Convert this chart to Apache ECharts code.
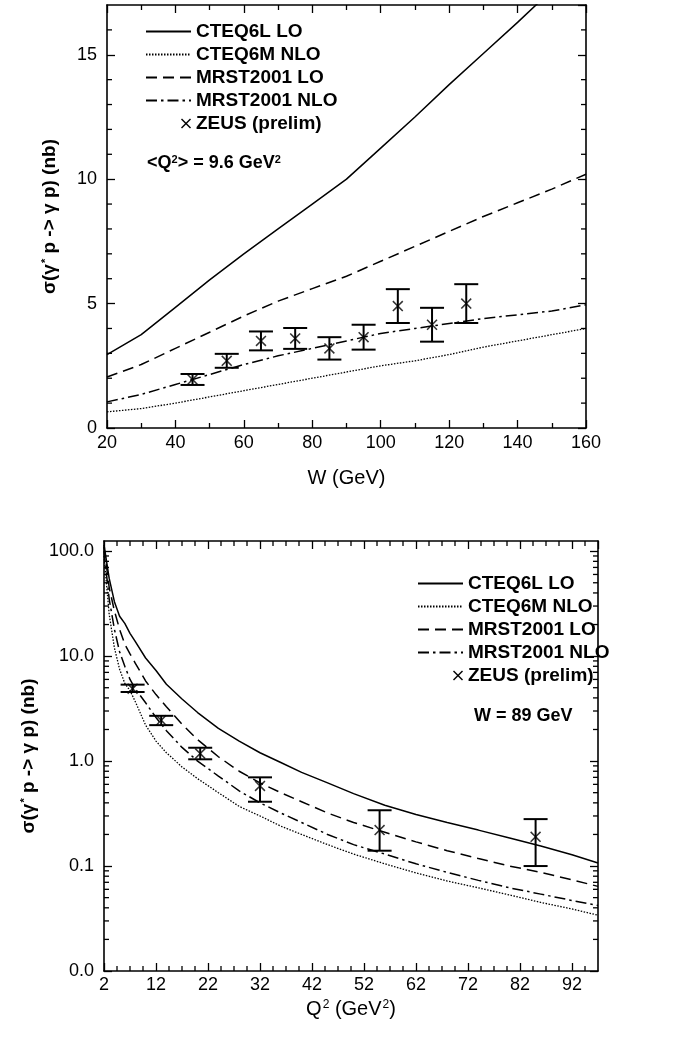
<!DOCTYPE html>
<html>
<head>
<meta charset="utf-8">
<script src="https://cdn.jsdelivr.net/npm/echarts@6/dist/echarts.min.js"></script>
<style>
html,body{margin:0;padding:0;background:#fff;}
#c{width:680px;height:1038px;}
</style>
</head>
<body>
<div id="c"></div>
<script>
// ---------- Top panel: sigma vs W at <Q2> = 9.6 GeV2 ----------
const W_VALUES      = [20, 30, 40, 50, 60, 70, 80, 90, 100, 110, 120, 130, 140, 150, 160];
const TOP_CTEQ6L_LO = [2.95, 3.75, 4.85, 5.95, 7.0, 8.0, 9.0, 10.0, 11.25, 12.5, 13.8, 15.05, 16.3, 17.6, 18.9];
const TOP_CTEQ6M_NLO= [0.65, 0.78, 1.0, 1.25, 1.5, 1.75, 2.0, 2.25, 2.5, 2.7, 2.95, 3.25, 3.5, 3.75, 4.0];
const TOP_MRST_LO   = [2.05, 2.55, 3.2, 3.85, 4.5, 5.1, 5.6, 6.1, 6.7, 7.3, 7.9, 8.5, 9.05, 9.6, 10.2];
const TOP_MRST_NLO  = [1.05, 1.35, 1.75, 2.15, 2.55, 2.9, 3.2, 3.5, 3.8, 4.0, 4.2, 4.4, 4.55, 4.7, 4.95];
const ZEUS_W        = [45, 55, 65, 75, 85, 95, 105, 115, 125];
const ZEUS_W_SIGMA  = [1.95, 2.7, 3.5, 3.6, 3.2, 3.65, 4.9, 4.15, 5.0];
const ZEUS_W_ERR    = [0.22, 0.28, 0.38, 0.42, 0.45, 0.5, 0.68, 0.68, 0.78];

// ---------- Bottom panel: sigma vs Q2 at W = 89 GeV ----------
const Q2_VALUES     = [2, 3, 4, 5, 6, 7, 8, 10, 12, 14, 17, 20, 24, 28, 32, 36, 40, 45, 50, 56, 62, 68, 74, 80, 86, 92, 97];
const BOT_CTEQ6L_LO = [115, 55, 33, 24, 20.5, 16.5, 13.8, 9.6, 7.3, 5.4, 3.9, 2.9, 2.05, 1.55, 1.2, 0.97, 0.78, 0.62, 0.49, 0.38, 0.31, 0.26, 0.22, 0.185, 0.155, 0.128, 0.107];
const BOT_CTEQ6M_NLO= [90, 25, 12, 7.5, 5.5, 4.7, 3.7, 2.2, 1.55, 1.2, 0.88, 0.68, 0.5, 0.37, 0.3, 0.24, 0.2, 0.16, 0.13, 0.105, 0.086, 0.072, 0.062, 0.053, 0.045, 0.039, 0.034];
const BOT_MRST_LO   = [110, 45, 27, 18, 13, 10.5, 8.6, 5.8, 4.3, 3.3, 2.25, 1.6, 1.1, 0.8, 0.62, 0.5, 0.41, 0.32, 0.26, 0.21, 0.17, 0.14, 0.118, 0.1, 0.087, 0.074, 0.064];
const BOT_MRST_NLO  = [100, 35, 18, 11, 8, 6, 4.9, 3.6, 2.6, 1.95, 1.35, 1.0, 0.72, 0.52, 0.4, 0.32, 0.26, 0.2, 0.16, 0.13, 0.105, 0.087, 0.073, 0.062, 0.054, 0.047, 0.042];
const ZEUS_Q2       = [7.5, 13, 20.5, 32, 55, 85];
const ZEUS_Q2_SIGMA = [4.9, 2.45, 1.18, 0.58, 0.22, 0.19];
const ZEUS_Q2_LOW   = [4.55, 2.2, 1.04, 0.41, 0.14, 0.10];
const ZEUS_Q2_HIGH  = [5.35, 2.7, 1.34, 0.70, 0.34, 0.28];

// ---------- Tick values ----------
const TOP_Y_MINOR_TICKS = [1, 2, 3, 4, 6, 7, 8, 9, 11, 12, 13, 14, 16];
const BOT_X_MINOR_TICKS = [4.5, 7, 9.5, 14.5, 17, 19.5, 24.5, 27, 29.5, 34.5, 37, 39.5,
                           44.5, 47, 49.5, 54.5, 57, 59.5, 64.5, 67, 69.5, 74.5, 77, 79.5,
                           84.5, 87, 89.5, 94.5];
const LOG_MAJOR_TICKS = [0.01, 0.1, 1, 10, 100];
const LOG_MINOR_TICKS = [0.02, 0.03, 0.04, 0.05, 0.06, 0.07, 0.08, 0.09,
                         0.2, 0.3, 0.4, 0.5, 0.6, 0.7, 0.8, 0.9,
                         2, 3, 4, 5, 6, 7, 8, 9,
                         20, 30, 40, 50, 60, 70, 80, 90];

const NAMES = ['CTEQ6L LO', 'CTEQ6M NLO', 'MRST2001 LO', 'MRST2001 NLO', 'ZEUS (prelim)'];

const FONT = '"Liberation Sans", Arial, Helvetica, sans-serif';
const BLACK = '#000';
const CROSS = 'path://M0,1L1,0L5,4L9,0L10,1L6,5L10,9L9,10L5,6L1,10L0,9L4,5Z';
const CROSS_ICON = 'path://M0,0M45,14M35,3L36,2L40,6L44,2L45,3L41,7L45,11L44,12L40,8L36,12L35,11L39,7Z';

const LINE_STYLES = [
  {color: BLACK, width: 1.5, type: 'solid'},
  {color: BLACK, width: 1.3, type: [1.5, 1.5]},
  {color: BLACK, width: 1.5, type: [11, 6]},
  {color: BLACK, width: 1.5, type: [11, 4, 2.5, 4]}
];

function zip(xs, ys) { return xs.map((x, i) => [x, ys[i]]); }

function lineSeries(name, xs, ys, styleIdx, xi, yi) {
  return {
    type: 'line', name: name, xAxisIndex: xi, yAxisIndex: yi,
    data: zip(xs, ys), symbol: 'none', showSymbol: false, smooth: false,
    clip: true, silent: true, lineStyle: LINE_STYLES[styleIdx], z: 3
  };
}

function errRender(params, api) {
  const x = api.value(0), lo = api.value(1), hi = api.value(2);
  const pLo = api.coord([x, lo]);
  const pHi = api.coord([x, hi]);
  const hw = 12;
  const st = {stroke: BLACK, lineWidth: 2, fill: null};
  return {
    type: 'group',
    children: [
      {type: 'line', shape: {x1: pLo[0], y1: pLo[1], x2: pHi[0], y2: pHi[1]}, style: st},
      {type: 'line', shape: {x1: pLo[0] - hw, y1: pLo[1], x2: pLo[0] + hw, y2: pLo[1]}, style: st},
      {type: 'line', shape: {x1: pHi[0] - hw, y1: pHi[1], x2: pHi[0] + hw, y2: pHi[1]}, style: st}
    ]
  };
}

// minor ticks on all four sides of a panel, placed through the panel's axes
const MINOR_LEN = 5;
function tickRender(params, api) {
  const cs = params.coordSys;
  const kind = api.value(2);
  const p = api.coord([api.value(0), api.value(1)]);
  const st = {stroke: BLACK, lineWidth: 1.3, fill: null};
  let c;
  if (kind === 0) {
    const yb = cs.y + cs.height, yt = cs.y;
    c = [
      {type: 'line', shape: {x1: p[0], y1: yb, x2: p[0], y2: yb - MINOR_LEN}, style: st},
      {type: 'line', shape: {x1: p[0], y1: yt, x2: p[0], y2: yt + MINOR_LEN}, style: st}
    ];
  } else {
    const xl = cs.x, xr = cs.x + cs.width;
    c = [
      {type: 'line', shape: {x1: xl, y1: p[1], x2: xl + MINOR_LEN, y2: p[1]}, style: st},
      {type: 'line', shape: {x1: xr, y1: p[1], x2: xr - MINOR_LEN, y2: p[1]}, style: st}
    ];
  }
  return {type: 'group', children: c};
}

const tickLine = {color: BLACK, width: 1.3};
const mainLine = {show: true, onZero: false, lineStyle: {color: BLACK, width: 1.6}};
const labelStyle = {color: BLACK, fontSize: 18, fontFamily: FONT};
const nameStyle = {color: BLACK, fontSize: 20, fontFamily: FONT};
const majorTick = {show: true, inside: true, length: 8, lineStyle: tickLine};

function ax(o) {
  return Object.assign({
    type: 'value', splitLine: {show: false}, axisLine: mainLine,
    axisLabel: {show: false}, axisTick: majorTick, minorTick: {show: false}
  }, o);
}

const supRich = {
  t: {fontSize: 20, fontFamily: FONT, color: BLACK},
  s: {fontSize: 12, fontFamily: FONT, color: BLACK, verticalAlign: 'top', padding: [0, 0, 0, 1]}
};
const supRichBold = {
  t: {fontSize: 19, fontWeight: 'bold', fontFamily: FONT, color: BLACK},
  s: {fontSize: 11, fontWeight: 'bold', fontFamily: FONT, color: BLACK, verticalAlign: 'top', padding: [0, 0, 0, 1]}
};

const logFmt = v => {
  const lg = Math.log10(v);
  return Math.abs(lg - Math.round(lg)) < 1e-6 ? v.toFixed(1) : '';
};

const legendText = {color: BLACK, fontSize: 19, fontWeight: 'bold', fontFamily: FONT};
const legendData = [NAMES[0], NAMES[1], NAMES[2], NAMES[3],
                    {name: NAMES[4], icon: CROSS_ICON, itemStyle: {opacity: 1, color: BLACK}}];

const option = {
  backgroundColor: '#fff',
  animation: false,
  grid: [
    {left: 107, top: 5, width: 479, height: 423},
    {left: 104, top: 541, width: 494, height: 430}
  ],
  xAxis: [
    ax({gridIndex: 0, position: 'bottom', min: 20, max: 160, interval: 20,
        minorTick: {show: true, splitNumber: 2, length: 5, lineStyle: tickLine},
        axisLabel: Object.assign({show: true, margin: 6}, labelStyle),
        name: 'W (GeV)', nameLocation: 'middle', nameGap: 40, nameTextStyle: nameStyle}),
    ax({gridIndex: 0, position: 'top', min: 20, max: 160, interval: 20,
        minorTick: {show: true, splitNumber: 2, length: 5, lineStyle: tickLine}}),
    ax({gridIndex: 1, position: 'bottom', min: 2, max: 97, interval: 10,
        axisLabel: Object.assign({show: true, margin: 5, showMaxLabel: false}, labelStyle),
        name: '{t|Q}{s|2}{t| (GeV}{s|2}{t|)}', nameLocation: 'middle', nameGap: 28,
        nameTextStyle: {rich: supRich}}),
    ax({gridIndex: 1, position: 'top', min: 2, max: 97, interval: 10})
  ],
  yAxis: [
    ax({gridIndex: 0, position: 'left', min: 0, max: 17, interval: 5,
        axisLabel: Object.assign({show: true, margin: 10, showMaxLabel: false}, labelStyle),
        name: '{t|σ(γ}{s|*}{t| p -> γ p) (nb)}', nameLocation: 'middle', nameGap: 48,
        nameRotate: 90, nameTextStyle: {rich: supRichBold}}),
    ax({gridIndex: 0, position: 'right', min: 0, max: 17, interval: 5}),
    ax({type: 'log', logBase: 10, gridIndex: 1, position: 'left', min: 0.01, max: 125,
        axisTick: Object.assign({customValues: LOG_MAJOR_TICKS}, majorTick),
        axisLabel: Object.assign({show: true, margin: 10, customValues: LOG_MAJOR_TICKS, formatter: logFmt}, labelStyle),
        name: '{t|σ(γ}{s|*}{t| p -> γ p) (nb)}', nameLocation: 'middle', nameGap: 45,
        nameRotate: 90, nameTextStyle: {rich: supRichBold}}),
    ax({type: 'log', logBase: 10, gridIndex: 1, position: 'right', min: 0.01, max: 125,
        axisTick: Object.assign({customValues: LOG_MAJOR_TICKS}, majorTick)})
  ],
  legend: [
    {left: 140, top: 17, orient: 'vertical', itemWidth: 45, itemHeight: 14, itemGap: 4,
     selectedMode: false, textStyle: legendText, itemStyle: {opacity: 0}, data: legendData},
    {left: 412, top: 569, orient: 'vertical', itemWidth: 45, itemHeight: 14, itemGap: 4,
     selectedMode: false, textStyle: legendText, itemStyle: {opacity: 0}, data: legendData}
  ],
  graphic: [
    {type: 'text', left: 147, top: 154, style: {
      text: '{t|<Q}{s|2}{t|> = 9.6 GeV}{s|2}', rich: {
        t: {fontSize: 18, fontWeight: 'bold', fontFamily: FONT, fill: BLACK},
        s: {fontSize: 11, fontWeight: 'bold', fontFamily: FONT, fill: BLACK, verticalAlign: 'top'}
      }}},
    {type: 'text', left: 474, top: 707, style: {
      text: 'W = 89 GeV', fontSize: 18, fontWeight: 'bold', fontFamily: FONT, fill: BLACK}}
  ],
  series: [
    lineSeries(NAMES[0], W_VALUES, TOP_CTEQ6L_LO, 0, 0, 0),
    lineSeries(NAMES[1], W_VALUES, TOP_CTEQ6M_NLO, 1, 0, 0),
    lineSeries(NAMES[2], W_VALUES, TOP_MRST_LO, 2, 0, 0),
    lineSeries(NAMES[3], W_VALUES, TOP_MRST_NLO, 3, 0, 0),
    {type: 'custom', name: 'ZEUS err W', xAxisIndex: 0, yAxisIndex: 0, silent: true, z: 4,
     renderItem: errRender, encode: {x: 0, y: [1, 2]},
     data: ZEUS_W.map((w, i) => [w, ZEUS_W_SIGMA[i] - ZEUS_W_ERR[i], ZEUS_W_SIGMA[i] + ZEUS_W_ERR[i]])},
    {type: 'scatter', name: NAMES[4], xAxisIndex: 0, yAxisIndex: 0, silent: true, z: 5,
     symbol: CROSS, symbolSize: 11, itemStyle: {color: BLACK},
     data: zip(ZEUS_W, ZEUS_W_SIGMA)},
    {type: 'custom', name: 'minor ticks top', xAxisIndex: 0, yAxisIndex: 0, silent: true, z: 6,
     renderItem: tickRender, encode: {x: 0, y: 1},
     data: TOP_Y_MINOR_TICKS.map(v => [90, v, 1])},

    lineSeries(NAMES[0], Q2_VALUES, BOT_CTEQ6L_LO, 0, 2, 2),
    lineSeries(NAMES[1], Q2_VALUES, BOT_CTEQ6M_NLO, 1, 2, 2),
    lineSeries(NAMES[2], Q2_VALUES, BOT_MRST_LO, 2, 2, 2),
    lineSeries(NAMES[3], Q2_VALUES, BOT_MRST_NLO, 3, 2, 2),
    {type: 'custom', name: 'ZEUS err Q2', xAxisIndex: 2, yAxisIndex: 2, silent: true, z: 4,
     renderItem: errRender, encode: {x: 0, y: [1, 2]},
     data: ZEUS_Q2.map((q, i) => [q, ZEUS_Q2_LOW[i], ZEUS_Q2_HIGH[i]])},
    {type: 'scatter', name: NAMES[4], xAxisIndex: 2, yAxisIndex: 2, silent: true, z: 5,
     symbol: CROSS, symbolSize: 11, itemStyle: {color: BLACK},
     data: zip(ZEUS_Q2, ZEUS_Q2_SIGMA)},
    {type: 'custom', name: 'minor ticks bottom', xAxisIndex: 2, yAxisIndex: 2, silent: true, z: 6,
     renderItem: tickRender, encode: {x: 0, y: 1},
     data: BOT_X_MINOR_TICKS.map(v => [v, 1, 0]).concat(LOG_MINOR_TICKS.map(v => [50, v, 1]))}
  ]
};

const chart = echarts.init(document.getElementById('c'), null, {renderer: 'canvas'});
chart.setOption(option);
</script>
</body>
</html>
